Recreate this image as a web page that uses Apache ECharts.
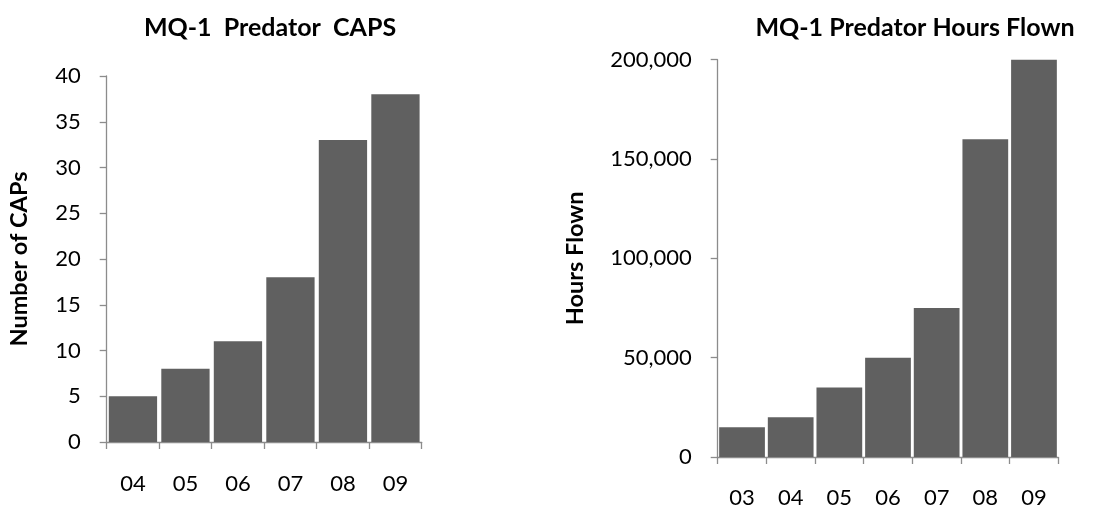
<!DOCTYPE html>
<html><head><meta charset="utf-8">
<script src="https://cdn.jsdelivr.net/npm/echarts@6/dist/echarts.min.js"></script>
<style>html,body{margin:0;padding:0;background:#fff}#c{width:1101px;height:510px}</style>
</head><body><div id="c"></div>
<script>
const capsYears = ['04','05','06','07','08','09'];
const capsValues = [5, 8, 11, 18, 33, 38];
const hoursYears = ['03','04','05','06','07','08','09'];
const hoursValues = [15000, 20000, 35000, 50000, 75000, 160000, 200000];

const FONT = 'Lato';
const axisLine = {show: true, lineStyle: {color: '#8c8c8c', width: 1.3}};
const ticks = {show: true, length: 7, lineStyle: {color: '#8c8c8c', width: 1.3}};
const lbl = {color: '#000', fontSize: 22, fontFamily: FONT};
const nameStyle = {fontSize: 23.5, fontWeight: 'bold', fontFamily: FONT, color: '#000'};
const titleStyle = {fontSize: 25, fontWeight: 'bold', fontFamily: FONT, color: '#000'};

const chart = echarts.init(document.getElementById('c'));
chart.setOption({
  animation: false,
  title: [
    {text: 'MQ-1  Predator  CAPS', left: 265, top: 10, textAlign: 'center', textStyle: titleStyle},
    {text: 'MQ-1 Predator Hours Flown', left: 910, top: 10, textAlign: 'center', textStyle: titleStyle}
  ],
  grid: [
    {left: 106.7, top: 76, width: 315, height: 366},
    {left: 717.7, top: 59.7, width: 340.6, height: 397.3}
  ],
  xAxis: [
    {type: 'category', gridIndex: 0, data: capsYears, axisLine, axisTick: ticks,
     axisLabel: Object.assign({margin: 31}, lbl)},
    {type: 'category', gridIndex: 1, data: hoursYears, axisLine, axisTick: ticks,
     axisLabel: Object.assign({margin: 30}, lbl)}
  ],
  yAxis: [
    {type: 'value', gridIndex: 0, min: 0, max: 40, interval: 5, axisLine, axisTick: ticks,
     splitLine: {show: false}, axisLabel: Object.assign({margin: 26}, lbl),
     name: 'Number of CAPs', nameLocation: 'middle', nameGap: 75, nameTextStyle: nameStyle},
    {type: 'value', gridIndex: 1, min: 0, max: 200000, interval: 50000, axisLine, axisTick: ticks,
     splitLine: {show: false},
     axisLabel: Object.assign({margin: 26, formatter: v => v.toLocaleString('en-US')}, lbl),
     name: 'Hours Flown', nameLocation: 'middle', nameGap: 130, nameTextStyle: nameStyle}
  ],
  series: [
    {type: 'bar', xAxisIndex: 0, yAxisIndex: 0, data: capsValues, barCategoryGap: '8%',
     itemStyle: {color: '#606060'}},
    {type: 'bar', xAxisIndex: 1, yAxisIndex: 1, data: hoursValues, barCategoryGap: '6%',
     itemStyle: {color: '#606060'}}
  ]
});
</script></body></html>
